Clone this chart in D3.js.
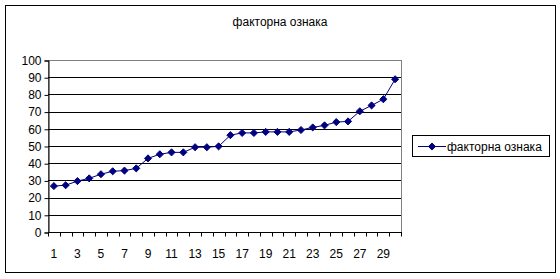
<!DOCTYPE html>
<html>
<head>
<meta charset="utf-8">
<script src="https://cdn.jsdelivr.net/npm/d3@7"></script>
<style>
  body { margin: 0; background: #fff; }
  text { font-family: "Liberation Sans", Arial, sans-serif; fill: #000; }
</style>
</head>
<body>
<script>
(function() {

  // chart data
  let title = "факторна ознака";
  let seriesName = "факторна ознака";
  let categories = d3.range(1, 31);
  let values = [26.7, 27.2, 29.6, 31.2, 33.6, 35.3, 35.7, 37.0, 42.8, 45.2,
                46.3, 46.3, 49.3, 49.3, 49.8, 56.3, 57.6, 57.6, 58.2, 58.2,
                58.2, 59.3, 60.8, 62.0, 63.9, 64.3, 70.2, 73.6, 77.2, 88.8];
  let yTicks = [0, 10, 20, 30, 40, 50, 60, 70, 80, 90, 100];

  let width = 560, height = 279;
  let plot = { left: 48, right: 401, top: 60, bottom: 232 };
  let navy = "#000080";

  let svg = d3.select("body")
    .append("svg")
    .attr("width", width)
    .attr("height", height);

  // outer chart border
  svg.append("rect")
    .attr("x", 5.5).attr("y", 5.5)
    .attr("width", 550).attr("height", 267)
    .attr("fill", "#fff")
    .attr("stroke", "#000")
    .attr("stroke-width", 1);

  svg.append("text")
    .attr("x", 280).attr("y", 26)
    .attr("text-anchor", "middle")
    .style("font-size", "12px")
    .text(title);

  let xScale = d3.scaleBand()
    .domain(categories)
    .range([plot.left, plot.right]);

  let yScale = d3.scaleLinear()
    .domain([0, 100])
    .range([plot.bottom, plot.top]);

  // plot area border (grey)
  svg.append("rect")
    .attr("x", plot.left + 0.5).attr("y", plot.top + 0.5)
    .attr("width", plot.right - plot.left).attr("height", plot.bottom - plot.top)
    .attr("fill", "none")
    .attr("stroke", "#808080");

  // gridlines
  svg.append("g")
    .selectAll("line")
    .data(yTicks.filter((t) => t > 0 && t < 100))
    .enter()
    .append("line")
    .attr("x1", plot.left)
    .attr("x2", plot.right)
    .attr("y1", (d) => Math.round(yScale(d)) + 0.5)
    .attr("y2", (d) => Math.round(yScale(d)) + 0.5)
    .attr("stroke", "#000");

  // y axis
  let yAxis = d3.axisLeft(yScale)
    .tickValues(yTicks)
    .tickSize(4)
    .tickPadding(3);
  let gy = svg.append("g")
    .attr("transform", "translate(" + (plot.left + 0.5) + ",0.5)")
    .call(yAxis);
  gy.select(".domain").attr("stroke", "#000");
  gy.selectAll(".tick line").attr("stroke", "#000");
  gy.selectAll(".tick text")
    .style("font-size", "12px")
    .style("font-family", "'Liberation Sans', Arial, sans-serif")
    .attr("fill", "#000");

  // x axis: ticks between categories, labels on odd categories
  let gx = svg.append("g")
    .attr("transform", "translate(0," + (plot.bottom + 0.5) + ")");
  gx.append("line")
    .attr("x1", plot.left).attr("x2", plot.right + 1)
    .attr("stroke", "#000");
  let edges = categories.map((c) => xScale(c)).concat([plot.right]);
  gx.selectAll(".xtick")
    .data(edges)
    .enter()
    .append("line")
    .attr("x1", (d) => Math.round(d) + 0.5)
    .attr("x2", (d) => Math.round(d) + 0.5)
    .attr("y1", 0).attr("y2", 4)
    .attr("stroke", "#000");
  gx.selectAll(".xlabel")
    .data(categories.filter((c) => c % 2 === 1))
    .enter()
    .append("text")
    .attr("x", (d) => xScale(d) + xScale.bandwidth() / 2)
    .attr("y", 25)
    .attr("text-anchor", "middle")
    .style("font-size", "12px")
    .text((d) => d);

  // series line
  let line = d3.line()
    .x((d, i) => xScale(categories[i]) + xScale.bandwidth() / 2)
    .y((d) => yScale(d));

  svg.append("path")
    .datum(values)
    .attr("d", line)
    .attr("fill", "none")
    .attr("stroke", navy)
    .attr("stroke-width", 1);

  let diamond = d3.symbol().type(d3.symbolDiamond2).size(32);
  svg.selectAll(".dot")
    .data(values)
    .enter()
    .append("path")
    .attr("d", diamond)
    .attr("transform", (d, i) => "translate(" + (xScale(categories[i]) + xScale.bandwidth() / 2) + "," + yScale(d) + ")")
    .attr("fill", navy)
    .attr("stroke", navy);

  // legend
  let legend = svg.append("g");
  legend.append("rect")
    .attr("x", 412.5).attr("y", 135.5)
    .attr("width", 137).attr("height", 21)
    .attr("fill", "#fff")
    .attr("stroke", "#000");
  legend.append("line")
    .attr("x1", 418).attr("x2", 446)
    .attr("y1", 146.5).attr("y2", 146.5)
    .attr("stroke", navy);
  legend.append("path")
    .attr("d", diamond)
    .attr("transform", "translate(432,146.5)")
    .attr("fill", navy)
    .attr("stroke", navy);
  legend.append("text")
    .attr("x", 447).attr("y", 151)
    .style("font-size", "12px")
    .text(seriesName);

})();
</script>
</body>
</html>
